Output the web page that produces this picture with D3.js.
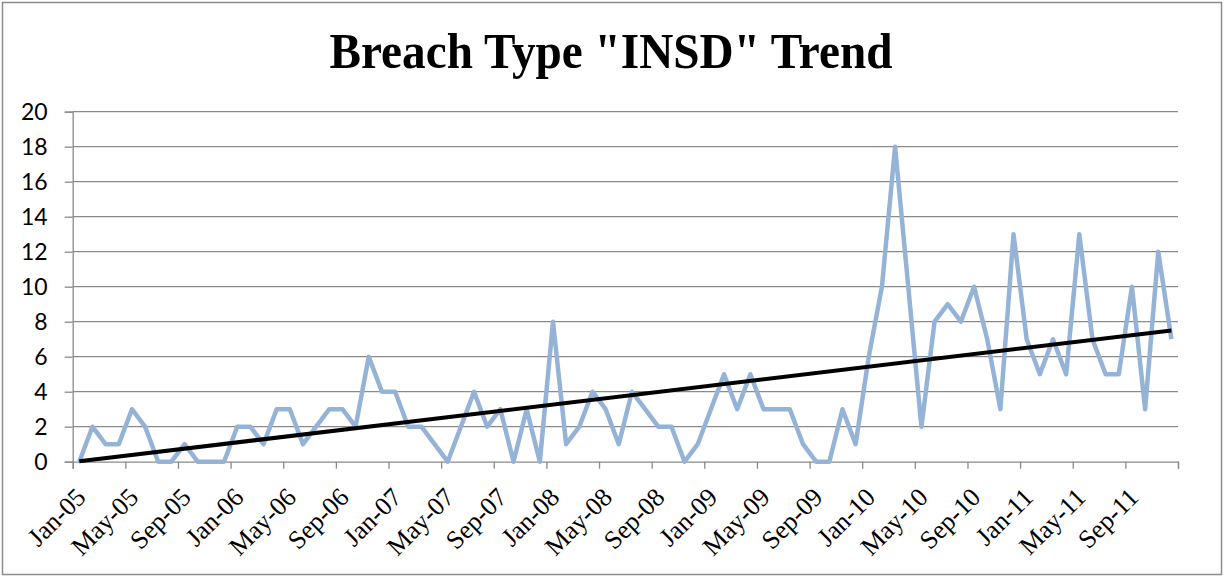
<!DOCTYPE html>
<html>
<head>
<meta charset="utf-8">
<script src="https://cdn.jsdelivr.net/npm/d3@7"></script>
<style>
  body { margin: 0; background: #fff; }
  svg { display: block; }
</style>
</head>
<body>
<div id="viz"></div>
<script>
const years = ["05", "06", "07", "08", "09", "10", "11"];
const monthNames = ["Jan", "Feb", "Mar", "Apr", "May", "Jun", "Jul", "Aug", "Sep", "Oct", "Nov", "Dec"];
const months = years.flatMap(y => monthNames.map(m => m + "-" + y));

const breaches = [
  0, 2, 1, 1, 3, 2, 0, 0, 1, 0, 0, 0,
  2, 2, 1, 3, 3, 1, 2, 3, 3, 2, 6, 4,
  4, 2, 2, 1, 0, 2, 4, 2, 3, 0, 3, 0,
  8, 1, 2, 4, 3, 1, 4, 3, 2, 2, 0, 1,
  3, 5, 3, 5, 3, 3, 3, 1, 0, 0, 3, 1,
  6, 10, 18, 10, 2, 8, 9, 8, 10, 7, 3, 13,
  7, 5, 7, 5, 13, 7, 5, 5, 10, 3, 12, 7
];

const tickLabels = months.filter((m, i) => i % 4 === 0);
const yTicks = [0, 2, 4, 6, 8, 10, 12, 14, 16, 18, 20];

const width = 1225;
const height = 577;
const plotL = 72.7, plotR = 1178, plotT = 111.7, plotB = 461.7;

const svg = d3.select("#viz").append("svg")
    .attr("width", width)
    .attr("height", height);

svg.append("rect")
    .attr("x", 2.5).attr("y", 2.5)
    .attr("width", 1219).attr("height", 572)
    .attr("fill", "#fff")
    .attr("stroke", "#8c8c8c")
    .attr("stroke-width", 1.5);

svg.append("text")
    .attr("x", 611)
    .attr("y", 68)
    .attr("text-anchor", "middle")
    .attr("font-family", "'Liberation Serif', 'Times New Roman', serif")
    .attr("font-weight", "bold")
    .attr("font-size", 50)
    .attr("textLength", 563)
    .attr("lengthAdjust", "spacingAndGlyphs")
    .text('Breach Type "INSD" Trend');

const x = d3.scaleBand().domain(months).range([plotL, plotR]).padding(0);
const xIdx = d3.scaleLinear().domain([0, months.length]).range([plotL, plotR]);
const y = d3.scaleLinear().domain([0, 20]).range([plotB, plotT]);

// gridlines
svg.append("g")
  .selectAll("line")
  .data(yTicks.filter(d => d > 0))
  .join("line")
    .attr("x1", plotL).attr("x2", plotR)
    .attr("y1", d => y(d)).attr("y2", d => y(d))
    .attr("stroke", "#8a8a8a")
    .attr("stroke-width", 1.3);

// y axis
const yAxis = svg.append("g")
    .attr("transform", `translate(${plotL},0)`)
    .call(d3.axisLeft(y).tickValues(yTicks).tickSize(8).tickPadding(17));
yAxis.select(".domain").attr("stroke", "#8a8a8a").attr("stroke-width", 1.3);
yAxis.selectAll(".tick line").attr("stroke", "#8a8a8a").attr("stroke-width", 1.3);
yAxis.selectAll("text")
    .attr("font-family", "Lato, 'Open Sans', sans-serif")
    .attr("font-size", 23)
    .attr("fill", "#000");

// x axis tick marks at category boundaries
const xTicks = svg.append("g")
    .attr("transform", `translate(0,${plotB})`)
    .call(d3.axisBottom(xIdx).tickValues(d3.range(0, months.length + 1, 4)).tickSize(7).tickFormat(""));
xTicks.select(".domain").attr("stroke", "#8a8a8a").attr("stroke-width", 1.3);
xTicks.selectAll(".tick line").attr("stroke", "#8a8a8a").attr("stroke-width", 1.3);

// x labels at category centres
const xLabels = svg.append("g")
    .attr("transform", `translate(0,${plotB})`)
    .call(d3.axisBottom(x).tickValues(tickLabels).tickSize(0).tickPadding(0));
xLabels.select(".domain").remove();
xLabels.selectAll("text")
    .attr("font-family", "'Liberation Serif', 'Times New Roman', serif")
    .attr("font-size", 26)
    .attr("fill", "#000")
    .attr("text-anchor", "end")
    .attr("dy", null)
    .attr("y", null)
    .attr("transform", "translate(8,37) rotate(-45)");

// data line
const line = d3.line()
    .x((d, i) => x(months[i]) + x.bandwidth() / 2)
    .y(d => y(d));

svg.append("path")
    .datum(breaches)
    .attr("fill", "none")
    .attr("stroke", "#95b3d7")
    .attr("stroke-width", 4.5)
    .attr("stroke-linejoin", "round")
    .attr("d", line);

// linear trendline (least squares)
const n = breaches.length;
const mx = d3.mean(d3.range(n));
const my = d3.mean(breaches);
const slope = d3.sum(breaches, (v, i) => (i - mx) * (v - my)) / d3.sum(d3.range(n), i => (i - mx) * (i - mx));
const icpt = my - slope * mx;
const trend = [0, n - 1].map(i => ({ i, v: icpt + slope * i }));

svg.append("path")
    .datum(trend)
    .attr("fill", "none")
    .attr("stroke", "#000")
    .attr("stroke-width", 4)
    .attr("d", d3.line()
        .x(d => x(months[d.i]) + x.bandwidth() / 2)
        .y(d => y(d.v)));
</script>
</body>
</html>
